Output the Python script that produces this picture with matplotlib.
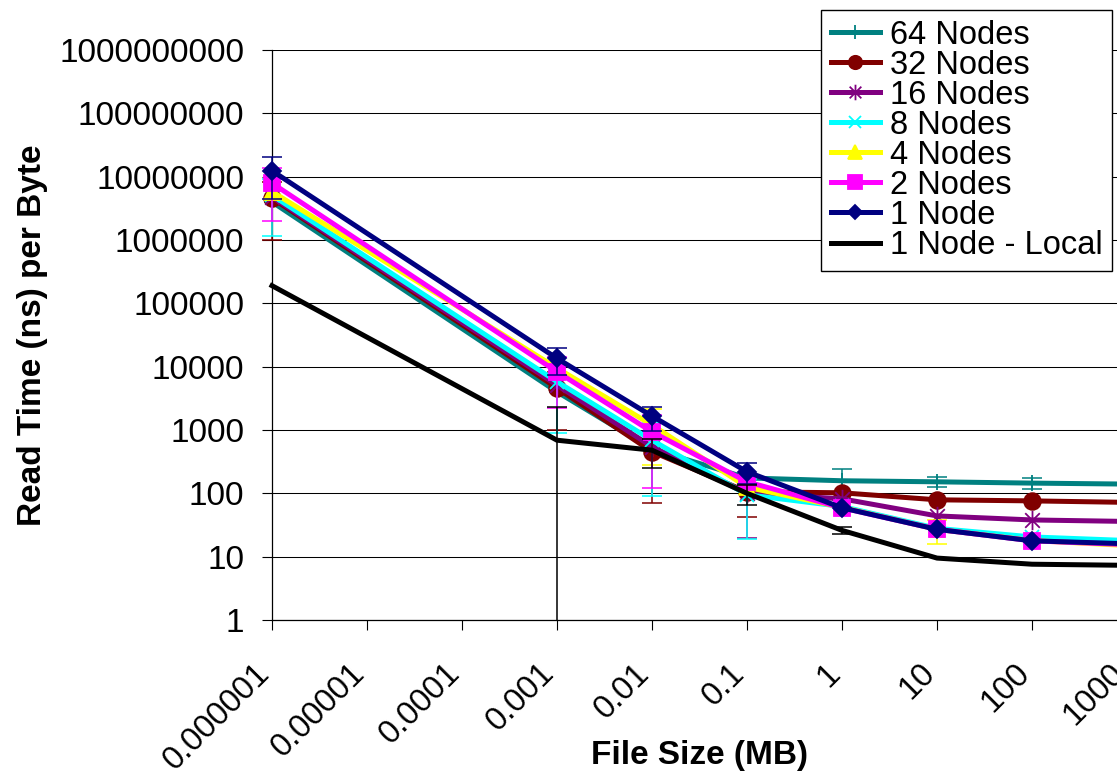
import numpy as np
import matplotlib.pyplot as plt
from matplotlib.path import Path
from matplotlib.transforms import ScaledTranslation

plt.rcParams['font.family'] = ['Liberation Sans', 'DejaVu Sans']

# file sizes (MB) where reads were measured
file_size = [1e-6, 1e-3, 1e-2, 1e-1, 1, 10, 100, 1000]

# mean read time (ns) per byte
nodes_64 = [4.0e6, 4.0e3, 500, 175, 158, 152, 145, 140]
nodes_32 = [4.6e6, 4.6e3, 455, 106, 102, 79, 76, 72]
nodes_16 = [4.8e6, 5.1e3, 545, 100, 82, 44, 38, 36]
nodes_8 = [5.1e6, 5.8e3, 690, 95, 62, 28, 20.5, 18]
nodes_4 = [5.8e6, 9.5e3, 1200, 125, 60, 27, 18, 15]
nodes_2 = [7.9e6, 8.3e3, 935, 152, 59, 27, 17.8, 15.5]
node_1 = [1.24e7, 1.35e4, 1660, 219, 59, 27, 17.8, 16]
node_1_local = [1.9e5, 690, 480, 100, 26, 9.5, 7.6, 7.3]

# standard deviation for the error bars (0 = no bar visible)
err_64 = [0, 0, 0, 0, 80, 27, 27, 0]
err_32 = [3.6e6, 3.6e3, 385, 63, 0, 0, 0, 0]
err_16 = [0, 0, 0, 80, 0, 0, 0, 0]
err_8 = [3.95e6, 4.9e3, 600, 76, 0, 0, 0, 0]
err_4 = [0, 0, 920, 0, 0, 11, 0, 0]
err_2 = [5.9e6, 6.1e3, 815, 0, 0, 0, 0, 0]
err_1 = [8e6, 6e3, 680, 80, 0, 0, 0, 0]
err_local = [0, 1.6e3, 230, 34, 3, 0, 0, 0]

x_labels = ["0.000001", "0.00001", "0.0001", "0.001", "0.01",
            "0.1", "1", "10", "100", "1000"]
y_labels = ["1", "10", "100", "1000", "10000", "100000", "1000000",
            "10000000", "100000000", "1000000000"]

# excel style asterisk marker
star = Path([(0, -1), (0, 1), (-0.75, -0.75), (0.75, 0.75), (-0.75, 0.75), (0.75, -0.75)],
            [Path.MOVETO, Path.LINETO] * 3)

series = [
    ("64 Nodes", nodes_64, err_64, "#008080", "+", 12),
    ("32 Nodes", nodes_32, err_32, "#800000", "o", 12),
    ("16 Nodes", nodes_16, err_16, "#800080", star, 14),
    ("8 Nodes", nodes_8, err_8, "#00FFFF", "x", 10),
    ("4 Nodes", nodes_4, err_4, "#FFFF00", "^", 12),
    ("2 Nodes", nodes_2, err_2, "#FF00FF", "s", 12),
    ("1 Node", node_1, err_1, "#000080", "D", 9),
    ("1 Node - Local", node_1_local, err_local, "#000000", None, 0),
]

fig = plt.figure(figsize=(11.17, 7.75), dpi=100)
ax = fig.add_axes([272 / 1117, 155 / 775, 855 / 1117, 570 / 775])

x = np.array(file_size)
handles = []
for i, (label, vals, errs, color, marker, ms) in enumerate(series):
    vals = np.array(vals)
    errs = np.array(errs, dtype=float)
    line, = ax.plot(x, vals, color=color, lw=3.6, marker=marker, ms=ms,
                    mfc=color if marker not in ("+", "x", star) else "none",
                    mec=color, mew=1.3, label=label, zorder=3 + i, clip_on=False)
    handles.append(line)
    idx = errs > 0
    clip = bool(np.any(vals[idx] - errs[idx] <= 0))
    ax.errorbar(x[idx], vals[idx], yerr=errs[idx], fmt="none", ecolor=color,
                elinewidth=1.1, capsize=7, capthick=1.1, zorder=3 + i, clip_on=clip)

ax.set_xscale("log")
ax.set_yscale("log")
ax.set_xlim(1e-6, 1e3)
ax.set_ylim(1, 1e9)
ax.set_xticks([10.0 ** k for k in range(-6, 4)], labels=x_labels)
ax.set_yticks([10.0 ** k for k in range(0, 10)], labels=y_labels)
ax.minorticks_off()

ax.tick_params(axis="both", direction="out", length=7, width=0.8, labelsize=24)
ax.tick_params(axis="x", labelsize=23.5)
ax.tick_params(axis="y", pad=13)
ax.tick_params(axis="x", pad=28)
shift = ScaledTranslation(-7 / 100, 0, fig.dpi_scale_trans)
for lbl in ax.get_xticklabels():
    lbl.set_rotation(45)
    lbl.set_ha("right")
    lbl.set_va("center")
    lbl.set_rotation_mode("anchor")
    lbl.set_transform(lbl.get_transform() + shift)

ax.grid(True, axis="y", color="black", lw=0.75)
ax.set_axisbelow(True)
for side in ("top", "right"):
    ax.spines[side].set_visible(False)
for side in ("left", "bottom"):
    ax.spines[side].set_linewidth(0.9)

ax.set_xlabel("File Size (MB)", fontsize=24, fontweight="bold")
ax.set_ylabel("Read Time (ns) per Byte", fontsize=24, fontweight="bold")
ax.xaxis.set_label_coords(0.5, -0.21)
ax.yaxis.set_label_coords(-0.262, 0.5)

leg = ax.legend(handles=handles, loc="upper left",
                bbox_to_anchor=(821 / 1117, 1 - 10 / 775), bbox_transform=fig.transFigure,
                fontsize=23.5, frameon=True, fancybox=False, edgecolor="black",
                framealpha=1, borderpad=0.3, borderaxespad=0, labelspacing=-0.03,
                handlelength=1.5, handletextpad=0.3, markerscale=0.8)
leg.get_frame().set_linewidth(1.0)

fig.savefig("out.png", dpi=100)
